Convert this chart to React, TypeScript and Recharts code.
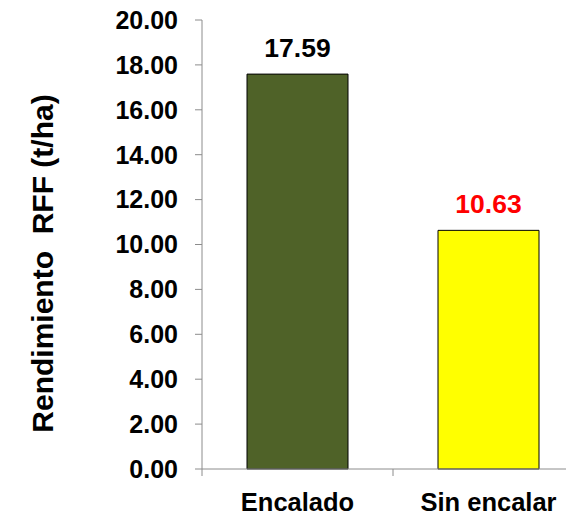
import { BarChart, Bar, XAxis, YAxis, Cell, LabelList, Label } from 'recharts';

const categories = ['Encalado', 'Sin encalar'];
const rendimiento = [17.59, 10.63];
const yTicks = [0, 2, 4, 6, 8, 10, 12, 14, 16, 18, 20];

const barFills = ['#4F6228', '#FFFF00'];
const labelFills = ['#000000', '#FF0000'];

const data = categories.map((name, i) => ({ name, value: rendimiento[i] }));

const FONT = '"Liberation Sans", Arial, sans-serif';
const AXIS_GRAY = '#8c8c8c';

const CHART_W = 600;
const CHART_H = 515;
const MARGIN = { top: 20, right: 16, left: 0, bottom: 0 };
const Y_AXIS_W = 202;
const X_AXIS_H = 46;
// half the width of one category band, used for the boundary ticks
const HALF_BAND = (CHART_W - MARGIN.right - MARGIN.left - Y_AXIS_W) / categories.length / 2;

function CategoryTick(props: any) {
  const { x, y, payload, index } = props;
  return (
    <g>
      {index === 0 && (
        <line x1={x - HALF_BAND} y1={y} x2={x - HALF_BAND} y2={y + 7} stroke={AXIS_GRAY} />
      )}
      <line x1={x + HALF_BAND} y1={y} x2={x + HALF_BAND} y2={y + 7} stroke={AXIS_GRAY} />
      <text
        x={x}
        y={y + 42}
        textAnchor="middle"
        fontFamily={FONT}
        fontWeight="bold"
        fontSize={25.5}
        fill="#000"
      >
        {payload.value}
      </text>
    </g>
  );
}

function ValueLabel(props: any) {
  const { x, y, width, value, index } = props;
  return (
    <text
      x={x + width / 2}
      y={y - 17}
      textAnchor="middle"
      fontFamily={FONT}
      fontWeight="bold"
      fontSize={26.5}
      fill={labelFills[index]}
    >
      {Number(value).toFixed(2)}
    </text>
  );
}

function YTitle(props: any) {
  const { viewBox } = props;
  const cy = viewBox.y + viewBox.height / 2 + 19;
  return (
    <text
      x={53}
      y={cy}
      transform={`rotate(-90, 53, ${cy})`}
      textAnchor="middle"
      fontFamily={FONT}
      fontWeight="bold"
      fontSize={30}
      fill="#000"
      style={{ whiteSpace: 'pre' }}
    >
      {'Rendimiento  RFF (t/ha)'}
    </text>
  );
}

export default function App() {
  return (
    <div
      style={{
        position: 'absolute',
        top: 0,
        left: 0,
        width: 566,
        height: 515,
        overflow: 'hidden',
        background: '#fff',
      }}
    >
      <BarChart width={CHART_W} height={CHART_H} data={data} margin={MARGIN}>
        <XAxis
          dataKey="name"
          height={X_AXIS_H}
          axisLine={{ stroke: AXIS_GRAY }}
          tickLine={false}
          tickSize={0}
          tickMargin={0}
          tick={<CategoryTick />}
          interval={0}
        />
        <YAxis
          width={Y_AXIS_W}
          domain={[0, 20]}
          ticks={yTicks}
          interval={0}
          tickFormatter={(v: number) => v.toFixed(2)}
          axisLine={{ stroke: AXIS_GRAY }}
          tickLine={{ stroke: AXIS_GRAY }}
          tickSize={7}
          tickMargin={17}
          tick={{ fontFamily: FONT, fontWeight: 'bold', fontSize: 25, fill: '#000' }}
        >
          <Label content={<YTitle />} />
        </YAxis>
        <Bar dataKey="value" barSize={101} stroke="#000" strokeWidth={1} isAnimationActive={false}>
          {data.map((d, i) => (
            <Cell key={d.name} fill={barFills[i]} />
          ))}
          <LabelList dataKey="value" content={<ValueLabel />} />
        </Bar>
      </BarChart>
    </div>
  );
}
